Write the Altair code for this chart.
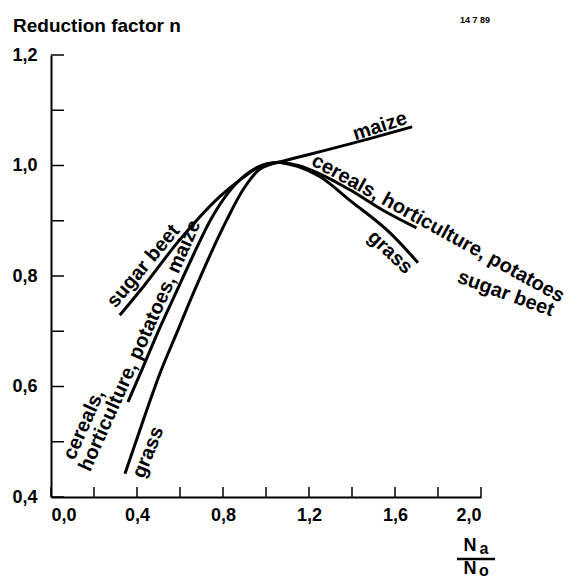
import altair as alt
import pandas as pd

# ---- curve data (x = Na/No, y = reduction factor n) ----
sb_left_x = [0.32, 0.43, 0.585, 0.678, 0.786, 0.893, 0.97, 1.06]
sb_left_y = [0.729, 0.781, 0.859, 0.901, 0.944, 0.978, 0.998, 1.006]

chpm_left_x = [0.358, 0.43, 0.507, 0.585, 0.662, 0.74, 0.833, 0.93, 1.00, 1.06]
chpm_left_y = [0.572, 0.637, 0.707, 0.773, 0.838, 0.900, 0.955, 0.99, 1.003, 1.006]

grass_left_x = [0.344, 0.429, 0.507, 0.585, 0.662, 0.74, 0.817, 0.893, 0.97, 1.06]
grass_left_y = [0.442, 0.539, 0.624, 0.697, 0.769, 0.838, 0.901, 0.956, 0.993, 1.006]

maize_right_x = [1.06, 1.20, 1.40, 1.68]
maize_right_y = [1.006, 1.02, 1.04, 1.07]

chps_right_x = [1.06, 1.15, 1.25, 1.39, 1.544, 1.70]
chps_right_y = [1.006, 1.0, 0.985, 0.956, 0.919, 0.887]

grass_right_x = [1.06, 1.15, 1.25, 1.39, 1.577, 1.707]
grass_right_y = [1.006, 0.998, 0.98, 0.937, 0.878, 0.824]

segments = {
    "sugar beet (left)": (sb_left_x, sb_left_y),
    "cereals etc. (left)": (chpm_left_x, chpm_left_y),
    "grass (left)": (grass_left_x, grass_left_y),
    "maize (right)": (maize_right_x, maize_right_y),
    "cereals etc. (right)": (chps_right_x, chps_right_y),
    "grass (right)": (grass_right_x, grass_right_y),
}

# ---- curve labels ----
label_text = ["sugar beet", "horticulture, potatoes, maize", "cereals,", "grass",
              "maize", "cereals, horticulture, potatoes", "sugar beet", "grass"]
label_x = [0.43, 0.414, 0.153, 0.452, 1.53, 1.80, 2.115, 1.577]
label_y = [0.818, 0.674, 0.531, 0.481, 1.071, 0.886, 0.768, 0.843]
label_angle = [310, 294, 294, 292, 342, 29, 20, 43]

x_ticks = [0.0, 0.2, 0.4, 0.6, 0.8, 1.0, 1.2, 1.4, 1.6, 1.8, 2.0]
x_labels = [0.0, 0.4, 0.8, 1.2, 1.6, 2.0]
y_ticks = [0.4, 0.5, 0.6, 0.7, 0.8, 0.9, 1.0, 1.1, 1.2]
y_labels = [0.4, 0.6, 0.8, 1.0, 1.2]

rows = []
for name, (xs, ys) in segments.items():
    for i, (a, b) in enumerate(zip(xs, ys)):
        rows.append({"seg": name, "x": a, "y": b, "o": i})
df = pd.DataFrame(rows)
labels_df = pd.DataFrame({"t": label_text, "x": label_x, "y": label_y, "a": label_angle})

W, H = 430, 442
FONT = "Liberation Sans"
label_expr = "replace(format(datum.value, '.1f'), '.', ',')"

xscale = alt.Scale(domain=[0, 2], nice=False, zero=False)
yscale = alt.Scale(domain=[0.4, 1.2], nice=False, zero=False)

xaxis = alt.Axis(values=x_labels, labelExpr=label_expr, ticks=False, grid=False,
                 domainColor="black", domainWidth=2, labelFont=FONT, labelFontSize=18,
                 labelFontWeight="bold", labelColor="black", labelPadding=9, title=None)
yaxis = alt.Axis(values=y_labels, labelExpr=label_expr, ticks=False, grid=False,
                 domainColor="black", domainWidth=2, labelFont=FONT, labelFontSize=18,
                 labelFontWeight="bold", labelColor="black", labelPadding=14, title=None)

lines = alt.Chart(df).mark_line(color="black", strokeWidth=3, interpolate="monotone",
                                clip=False).encode(
    x=alt.X("x:Q", scale=xscale, axis=xaxis),
    y=alt.Y("y:Q", scale=yscale, axis=yaxis),
    detail="seg:N",
    order="o:Q",
)

xt = alt.Chart(pd.DataFrame({"v": x_ticks})).mark_rule(color="black", strokeWidth=1.5).encode(
    x=alt.X("v:Q", scale=xscale), y=alt.value(H), y2=alt.value(H - 10))
yt = alt.Chart(pd.DataFrame({"v": y_ticks})).mark_rule(color="black", strokeWidth=1.5).encode(
    y=alt.Y("v:Q", scale=yscale), x=alt.value(0), x2=alt.value(13))

texts = alt.Chart(labels_df).mark_text(font=FONT, fontSize=20, fontWeight="bold", color="black",
                                        align="center", baseline="middle").encode(
    x=alt.X("x:Q", scale=xscale), y=alt.Y("y:Q", scale=yscale),
    text="t:N", angle=alt.Angle("a:Q", scale=None))

title = alt.Chart(pd.DataFrame({"t": ["Reduction factor n"]})).mark_text(
    font=FONT, fontSize=19, fontWeight="bold", color="black", align="left",
    baseline="middle").encode(x=alt.value(-38), y=alt.value(-29), text="t:N")

stamp = alt.Chart(pd.DataFrame({"t": ["14 7 89"]})).mark_text(
    font=FONT, fontSize=9, fontWeight="bold", color="black", align="left",
    baseline="middle").encode(x=alt.value(409), y=alt.value(-35), text="t:N")

n1 = alt.Chart(pd.DataFrame({"t": ["N"]})).mark_text(
    font=FONT, fontSize=18, fontWeight="bold", color="black", baseline="alphabetic").encode(
    x=alt.value(W - 11), y=alt.value(H + 54), text="t:N")
a1 = alt.Chart(pd.DataFrame({"t": ["a"]})).mark_text(
    font=FONT, fontSize=16, fontWeight="bold", color="black", baseline="alphabetic").encode(
    x=alt.value(W + 3), y=alt.value(H + 57), text="t:N")
bar = alt.Chart(pd.DataFrame({"t": [1]})).mark_rule(color="black", strokeWidth=2.5).encode(
    x=alt.value(W - 24), x2=alt.value(W + 14), y=alt.value(H + 62))
n2 = alt.Chart(pd.DataFrame({"t": ["N"]})).mark_text(
    font=FONT, fontSize=18, fontWeight="bold", color="black", baseline="alphabetic").encode(
    x=alt.value(W - 11), y=alt.value(H + 77), text="t:N")
o2 = alt.Chart(pd.DataFrame({"t": ["o"]})).mark_text(
    font=FONT, fontSize=16, fontWeight="bold", color="black", baseline="alphabetic").encode(
    x=alt.value(W + 3), y=alt.value(H + 79), text="t:N")

chart = alt.layer(lines, xt, yt, texts, title, stamp, n1, a1, bar, n2, o2).properties(
    width=W, height=H,
    autosize=alt.AutoSizeParams(type="none"),
    padding={"left": 51, "top": 55, "right": 89, "bottom": 83},
).configure_view(stroke=None)

chart.save("out.html", embed_options={"renderer": "svg", "actions": False})
